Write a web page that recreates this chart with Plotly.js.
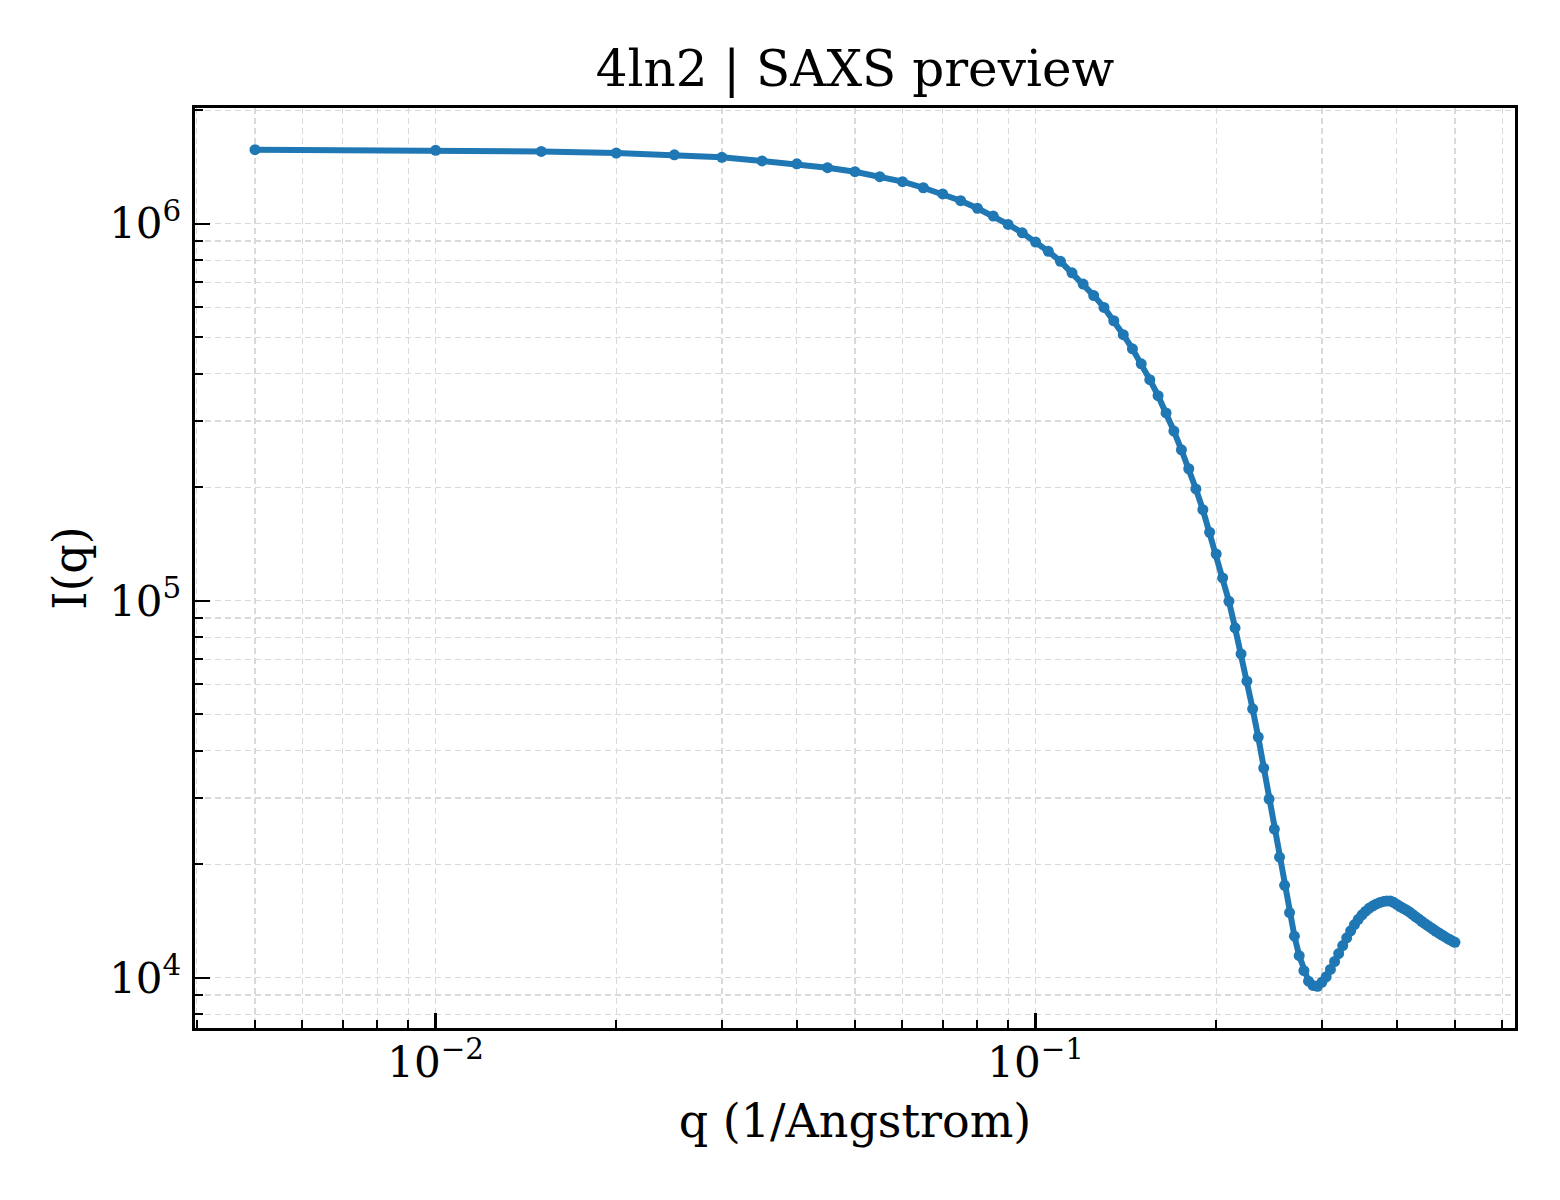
<!DOCTYPE html>
<html>
<head>
<meta charset="utf-8">
<script src="https://cdn.plot.ly/plotly-3.0.1.min.js"></script>
<style>html,body{margin:0;padding:0;background:#fff;}</style>
</head>
<body>
<div id="chart" style="width:1560px;height:1200px;"></div>
<script>
const qValues = [
  0.005, 0.010, 0.015, 0.020, 0.025, 0.030, 0.035, 0.040, 0.045, 0.050,
  0.055, 0.060, 0.065, 0.070, 0.075, 0.080, 0.085, 0.090, 0.095, 0.100,
  0.105, 0.110, 0.115, 0.120, 0.125, 0.130, 0.135, 0.140, 0.145, 0.150,
  0.155, 0.160, 0.165, 0.170, 0.175, 0.180, 0.185, 0.190, 0.195, 0.200,
  0.205, 0.210, 0.215, 0.220, 0.225, 0.230, 0.235, 0.240, 0.245, 0.250,
  0.255, 0.260, 0.265, 0.270, 0.275, 0.280, 0.285, 0.290, 0.295, 0.300,
  0.305, 0.310, 0.315, 0.320, 0.325, 0.330, 0.335, 0.340, 0.345, 0.350,
  0.355, 0.360, 0.365, 0.370, 0.375, 0.380, 0.385, 0.390, 0.395, 0.400,
  0.405, 0.410, 0.415, 0.420, 0.425, 0.430, 0.435, 0.440, 0.445, 0.450,
  0.455, 0.460, 0.465, 0.470, 0.475, 0.480, 0.485, 0.490, 0.495, 0.500
];
const intensity = [
  1572000, 1566000, 1555000, 1540000, 1523000, 1500000, 1468000, 1442000, 1408000, 1374000,
  1333000, 1293000, 1246000, 1200000, 1151000, 1099000, 1048000, 996000, 946000, 894000,
  845000, 795000, 741000, 692000, 645000, 600000, 553000, 508000, 466000, 425000,
  386000, 350000, 315000, 282000, 251500, 224000, 198000, 174500, 152000, 133000,
  115000, 99700, 84800, 72300, 61200, 51700, 43500, 36000, 29800, 24800,
  20900, 17600, 14900, 12900, 11450, 10450, 9800, 9550, 9500, 9730,
  10060, 10530, 11050, 11600, 12180, 12770, 13330, 13850, 14300, 14700,
  15030, 15310, 15530, 15710, 15850, 15950, 16000, 15990, 15860, 15660,
  15460, 15290, 15130, 14940, 14730, 14520, 14330, 14130, 13940, 13770,
  13610, 13450, 13290, 13150, 13010, 12880, 12740, 12630, 12520, 12420
];
const xTickVals = [0.01, 0.1];
const xTickText = ['10<sup>\u22122</sup>', '10<sup>\u22121</sup>'];
const xMinorVals = [0.004, 0.005, 0.006, 0.007, 0.008, 0.009,
  0.02, 0.03, 0.04, 0.05, 0.06, 0.07, 0.08, 0.09,
  0.2, 0.3, 0.4, 0.5, 0.6];
const yTickVals = [1e4, 1e5, 1e6];
const yTickText = ['10<sup>4</sup>', '10<sup>5</sup>', '10<sup>6</sup>'];
const yMinorVals = [8000, 9000,
  20000, 30000, 40000, 50000, 60000, 70000, 80000, 90000,
  200000, 300000, 400000, 500000, 600000, 700000, 800000, 900000,
  2000000];

const FONT = 'DejaVu Serif, Liberation Serif, serif';
const gridColor = '#d9d9d9';

const trace = {
  x: qValues,
  y: intensity,
  type: 'scatter',
  mode: 'lines+markers',
  line: {color: '#1f77b4', width: 6},
  marker: {color: '#1f77b4', size: 11},
  showlegend: false,
  hoverinfo: 'x+y'
};

const axisCommon = {
  type: 'log',
  showline: true,
  linecolor: 'black',
  linewidth: 3.3,
  mirror: true,
  ticks: 'inside',
  ticklen: 15,
  tickwidth: 2.5,
  tickcolor: 'black',
  tickmode: 'array',
  showgrid: true,
  gridcolor: gridColor,
  gridwidth: 1.3,
  griddash: '6px,4px',
  zeroline: false,
  tickfont: {family: FONT, size: 42, color: 'black'}
};

const layout = {
  width: 1560,
  height: 1200,
  paper_bgcolor: 'white',
  plot_bgcolor: 'white',
  margin: {l: 195, r: 45, t: 108, b: 172, pad: 0},
  font: {family: FONT, color: 'black'},
  title: {
    text: '4ln2 | SAXS preview',
    font: {family: FONT, size: 50, color: 'black'},
    x: 0.5, xref: 'paper', xanchor: 'center',
    y: 1 - 68 / 1200, yref: 'container', yanchor: 'middle'
  },
  xaxis: Object.assign({}, axisCommon, {
    range: [-2.401, -0.201],
    tickvals: xTickVals,
    ticktext: xTickText,
    ticklabelstandoff: -5,
    minor: {
      tickmode: 'array', tickvals: xMinorVals,
      ticks: 'inside', ticklen: 8, tickwidth: 2, tickcolor: 'black',
      showgrid: true, gridcolor: gridColor, gridwidth: 1.3, griddash: '6px,4px'
    },
    title: {text: 'q (1/Angstrom)', font: {family: FONT, size: 46, color: 'black'}, standoff: 20}
  }),
  yaxis: Object.assign({}, axisCommon, {
    range: [3.867, 6.307],
    tickvals: yTickVals,
    ticktext: yTickText,
    ticklabelstandoff: 2,
    minor: {
      tickmode: 'array', tickvals: yMinorVals,
      ticks: 'inside', ticklen: 8, tickwidth: 2, tickcolor: 'black',
      showgrid: true, gridcolor: gridColor, gridwidth: 1.3, griddash: '6px,4px'
    },
    title: {text: 'I(q)', font: {family: FONT, size: 46, color: 'black'}, standoff: 9}
  })
};

Plotly.newPlot('chart', [trace], layout, {displayModeBar: false, staticPlot: true});
</script>
</body>
</html>
